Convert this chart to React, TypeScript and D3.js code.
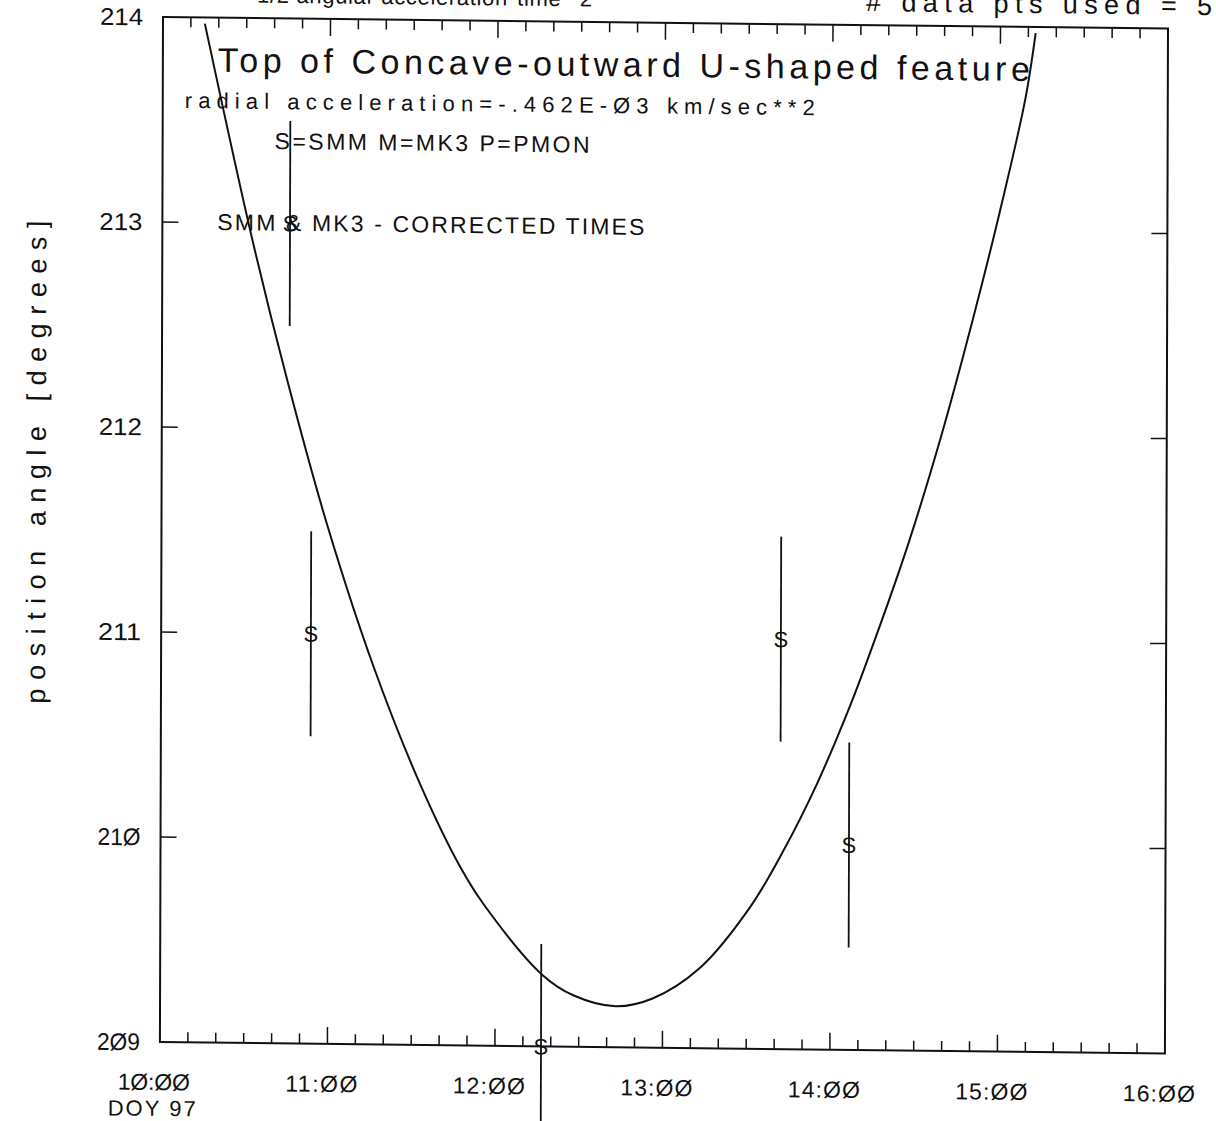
import { useEffect, useRef } from 'react';
import * as d3 from 'd3';

// axis ticks / labels (plotter font prints zeros slashed)
const Y_TICKS = [209, 210, 211, 212, 213, 214];
const Y_LABELS = ['2Ø9', '21Ø', '211', '212', '213', '214'];
const HOUR_TICKS = [10, 11, 12, 13, 14, 15, 16];
const HOUR_LABELS = ['1Ø:ØØ', '11:ØØ', '12:ØØ', '13:ØØ', '14:ØØ', '15:ØØ', '16:ØØ'];

// SMM measurements: decimal hours, position angle, +/- error
const OBS_TIME = [10.762, 10.894, 12.275, 13.7, 14.11];
const OBS_ANGLE = [213.0, 211.0, 209.0, 211.0, 210.0];
const OBS_ERR = [0.5, 0.5, 0.5, 0.5, 0.5];
const OBS_CODE = ['S', 'S', 'S', 'S', 'S'];

// fitted curve
const FIT_TIME = [10.25, 10.54, 10.75, 10.99, 11.27, 11.55, 11.79, 11.93, 12.28, 12.47, 12.72,
  12.94, 13.22, 13.52, 13.72, 13.92, 14.11, 14.22, 14.45, 14.65, 14.84, 15.0, 15.15, 15.21];
const FIT_ANGLE = [213.97, 212.91, 212.23, 211.53, 210.84, 210.27, 209.87, 209.69, 209.35, 209.25, 209.2,
  209.24, 209.39, 209.69, 209.97, 210.3, 210.67, 210.91, 211.45, 211.99, 212.57, 213.1, 213.65, 213.97];

const W = 1216;
const H = 1121;
const FONT = '"Liberation Sans", Arial, sans-serif';

export default function App() {
  const svgRef = useRef<SVGSVGElement>(null);

  useEffect(() => {
    if (!svgRef.current) return;
    document.body.style.margin = '0';

    const margin = { top: 17, right: 48, bottom: 79, left: 163 };
    const svg = d3.select(svgRef.current);
    svg.selectAll('*').remove();
    svg.attr('width', W).attr('height', H).attr('viewBox', `0 0 ${W} ${H}`);

    svg.append('rect').attr('width', W).attr('height', H).attr('fill', 'white');

    // the scanned page is slightly sheared
    const g = svg.append('g')
      .attr('transform', 'matrix(1,0.0115,-0.003,1,0.05,-1.87)')
      .attr('font-family', FONT)
      .attr('fill', '#111');

    const x = d3.scaleLinear().domain([10, 16]).range([margin.left, W - margin.right]);
    const y = d3.scaleLinear().domain([209, 214]).range([H - margin.bottom, margin.top]);
    const [x0, x1] = x.range();
    const [y0, y1] = [y(214), y(209)];

    const ink = '#111';

    // frame
    g.append('rect')
      .attr('x', x0).attr('y', y0)
      .attr('width', x1 - x0).attr('height', y1 - y0)
      .attr('fill', 'none').attr('stroke', ink).attr('stroke-width', 2);

    // time ticks every 10 min, long ones on the hour
    const minutes = d3.range(10, 360, 10);
    minutes.forEach(m => {
      const len = m % 60 === 0 ? 17 : 10;
      const xx = x(10 + m / 60);
      g.append('line').attr('x1', xx).attr('x2', xx).attr('y1', y0).attr('y2', y0 + len)
        .attr('stroke', ink).attr('stroke-width', 1.5);
      g.append('line').attr('x1', xx).attr('x2', xx).attr('y1', y1).attr('y2', y1 - len)
        .attr('stroke', ink).attr('stroke-width', 1.5);
    });

    // angle ticks both sides
    Y_TICKS.slice(1, -1).forEach(v => {
      g.append('line').attr('x1', x0).attr('x2', x0 + 16).attr('y1', y(v)).attr('y2', y(v))
        .attr('stroke', ink).attr('stroke-width', 1.5);
      g.append('line').attr('x1', x1).attr('x2', x1 - 16).attr('y1', y(v)).attr('y2', y(v))
        .attr('stroke', ink).attr('stroke-width', 1.5);
    });

    // y labels
    Y_TICKS.forEach((v, i) => {
      g.append('text')
        .attr('x', 143).attr('y', y(v) + 8.5)
        .attr('text-anchor', 'end')
        .attr('font-size', 24)
        .attr('textLength', 43).attr('lengthAdjust', 'spacingAndGlyphs')
        .text(Y_LABELS[i]);
    });

    // x labels
    HOUR_TICKS.forEach((h, i) => {
      g.append('text')
        .attr('x', x(h) - 6).attr('y', 1090)
        .attr('text-anchor', 'middle')
        .attr('font-size', 23)
        .attr('textLength', 72).attr('lengthAdjust', 'spacing')
        .text(HOUR_LABELS[i]);
    });
    g.append('text')
      .attr('x', x(10) - 8).attr('y', 1116)
      .attr('text-anchor', 'middle')
      .attr('font-size', 22)
      .attr('textLength', 88).attr('lengthAdjust', 'spacing')
      .text('DOY 97');

    // y axis title
    g.append('text')
      .attr('transform', 'translate(47,705) rotate(-90)')
      .attr('font-size', 27)
      .attr('textLength', 483).attr('lengthAdjust', 'spacing')
      .text('position angle [degrees]');

    // header lines (cut off at the top of the scan)
    g.append('text')
      .attr('x', 257).attr('y', 1.5)
      .attr('font-size', 22)
      .attr('textLength', 335).attr('lengthAdjust', 'spacing')
      .text('1/2 angular acceleration*time**2');
    g.append('text')
      .attr('x', 866).attr('y', 3)
      .attr('font-size', 27)
      .attr('textLength', 346).attr('lengthAdjust', 'spacing')
      .text('# data pts used =  5');

    // annotations inside the plot
    g.append('text')
      .attr('x', 218).attr('y', 71)
      .attr('font-size', 34)
      .attr('textLength', 812).attr('lengthAdjust', 'spacing')
      .text('Top of Concave-outward U-shaped feature');
    g.append('text')
      .attr('x', 185).attr('y', 107.7)
      .attr('font-size', 22)
      .attr('textLength', 630).attr('lengthAdjust', 'spacing')
      .text('radial acceleration=-.462E-Ø3  km/sec**2');
    g.append('text')
      .attr('x', 275).attr('y', 147.7)
      .attr('font-size', 23)
      .attr('textLength', 315).attr('lengthAdjust', 'spacing')
      .text('S=SMM  M=MK3  P=PMON');
    g.append('text')
      .attr('x', 218).attr('y', 229.4)
      .attr('font-size', 23)
      .attr('textLength', 427).attr('lengthAdjust', 'spacing')
      .text('SMM & MK3 - CORRECTED TIMES');

    // fitted curve
    const fit = FIT_TIME.map((t, i) => [t, FIT_ANGLE[i]] as [number, number]);
    const line = d3.line<[number, number]>()
      .x(d => x(d[0]))
      .y(d => y(d[1]))
      .curve(d3.curveCatmullRom.alpha(0.5));
    g.append('path')
      .attr('d', line(fit))
      .attr('fill', 'none')
      .attr('stroke', ink)
      .attr('stroke-width', 2);

    // observations with error bars
    OBS_TIME.forEach((t, i) => {
      const cx = x(t);
      g.append('text')
        .attr('x', cx).attr('y', y(OBS_ANGLE[i]))
        .attr('dy', '0.36em')
        .attr('text-anchor', 'middle')
        .attr('font-size', 22)
        .text(OBS_CODE[i]);
      g.append('line')
        .attr('x1', cx).attr('x2', cx)
        .attr('y1', y(OBS_ANGLE[i] + OBS_ERR[i]))
        .attr('y2', y(OBS_ANGLE[i] - OBS_ERR[i]))
        .attr('stroke', ink).attr('stroke-width', 1.8);
    });
  }, []);

  return <svg ref={svgRef} style={{ display: 'block' }} />;
}
